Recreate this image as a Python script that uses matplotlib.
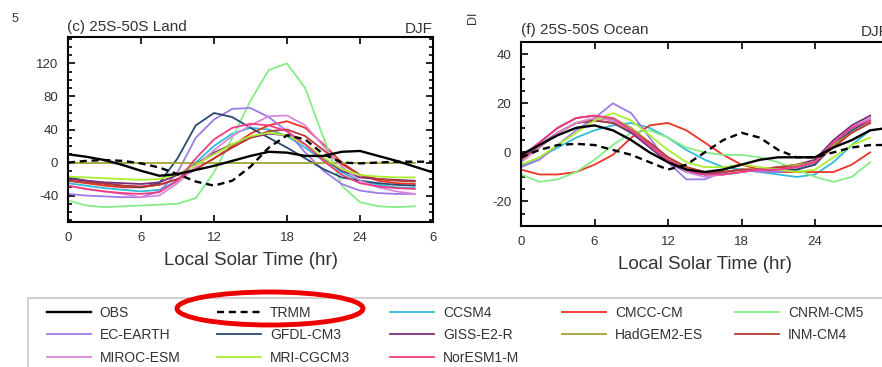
import numpy as np
import matplotlib
matplotlib.use('Agg')
import matplotlib.pyplot as plt
from matplotlib.patches import Ellipse, Rectangle
from matplotlib.ticker import MultipleLocator

plt.rcParams['font.family'] = ['Liberation Sans', 'DejaVu Sans']
plt.rcParams['axes.unicode_minus'] = False

# local solar time (hr); models every 1.5 h, observations to 30 h
t_mod = np.arange(0, 29, 1.5)
t_obs = np.arange(0, 30.1, 1.5)
xtick_labels_land = ['0', '6', '12', '18', '24', '6']
xtick_labels_ocean = ['0', '6', '12', '18', '24', '']

names = ['OBS', 'TRMM', 'CCSM4', 'CMCC-CM', 'CNRM-CM5', 'EC-EARTH', 'GFDL-CM3',
         'GISS-E2-R', 'HadGEM2-ES', 'INM-CM4', 'MIROC-ESM', 'MRI-CGCM3', 'NorESM1-M']
colors = ['black', 'black', '#2fbcd8', '#ec3426', '#86ec86', '#9c7ce6', '#2c4a70',
          '#7a3078', '#a4a430', '#bb3a36', '#dc86dc', '#acee30', '#f03c84']

# (c) 25S-50S Land
land_obs = [10, 7, 3, -3, -10, -16, -14, -9, -4, 2, 8, 13, 12, 8, 8, 13, 14, 8, 2, -5, -12]
land_trmm = [0, 2, 3, 2, -1, -6, -14, -23, -28, -22, -5, 18, 33, 28, 10, 0, -1, 0, 1, 1, 1]
land_ccsm4 = [-25, -28, -31, -33, -35, -33, -22, 0, 20, 35, 42, 40, 32, 18, 2, -12, -22, -27, -30, -31]
land_cmcc = [-22, -25, -28, -30, -30, -27, -20, -8, 5, 20, 35, 45, 50, 42, 22, 0, -15, -22, -25, -26]
land_cnrm = [-46, -52, -54, -53, -52, -51, -50, -43, -12, 30, 75, 112, 120, 90, 30, -28, -48, -53, -54, -53]
land_ecearth = [-38, -40, -41, -42, -42, -35, -12, 30, 52, 65, 66, 55, 38, 12, -10, -26, -34, -37, -38, -38]
land_gfdl = [-18, -22, -25, -28, -30, -25, 5, 45, 60, 55, 42, 30, 18, 5, -8, -18, -22, -25, -27, -28]
land_giss = [-20, -22, -24, -25, -26, -24, -15, -2, 12, 22, 30, 35, 33, 22, 5, -10, -18, -20, -21, -22]
land_hadgem = [0, 0, 0, 0, 0, 0, 0, 0, 0, 0, 0, 0, 0, 0, 0, 0, 0, 0, 0, 0]
land_inm = [-22, -24, -26, -28, -29, -27, -20, -8, 5, 18, 30, 38, 40, 32, 15, -2, -15, -20, -22, -23]
land_miroc = [-28, -32, -35, -38, -42, -40, -25, -5, 15, 32, 45, 56, 57, 45, 20, -5, -22, -30, -35, -38]
land_mri = [-17, -18, -19, -20, -21, -20, -14, -3, 10, 22, 32, 36, 33, 22, 6, -8, -15, -17, -18, -18]
land_noresm = [-28, -32, -35, -37, -38, -36, -22, 5, 28, 42, 47, 45, 38, 22, 2, -15, -25, -29, -31, -32]

# (f) 25S-50S Ocean
ocean_obs = [-1, 3, 7, 10, 11, 9, 5, 0, -4, -7, -8, -7, -5, -3, -2, -2, -2, 2, 5, 9, 10]
ocean_trmm = [-2, 1, 3, 3.5, 3, 1, -1, -4, -7, -5, 0, 5, 8, 6, 1, -2, -2, 0, 2, 3, 3]
ocean_ccsm4 = [-6, -2, 2, 6, 9, 11, 12, 10, 6, 1, -3, -6, -7, -8, -9, -10, -9, -4, 3, 9]
ocean_cmcc = [-7, -9, -9, -8, -5, -1, 6, 11, 12, 9, 4, -1, -5, -7, -8, -8, -8, -8, -5, 0]
ocean_cnrm = [-9, -12, -11, -8, -3, 3, 8, 9, 6, 2, 0, -1, -1, -2, -4, -7, -10, -12, -10, -4]
ocean_ecearth = [-6, -3, 3, 9, 14, 20, 16, 6, -4, -11, -11, -8, -7, -8, -8, -7, -5, 3, 10, 14]
ocean_gfdl = [-3, 3, 8, 12, 13, 12, 8, 3, -3, -7, -9, -9, -8, -7, -7, -7, -5, 3, 9, 13]
ocean_giss = [-2, 4, 10, 14, 15, 13, 8, 2, -4, -8, -9, -8, -7, -7, -6, -5, -3, 5, 11, 15]
ocean_hadgem = [-4, 2, 8, 12, 14, 14, 10, 4, -2, -6, -8, -8, -7, -7, -6, -5, -4, 3, 8, 12]
ocean_inm = [-3, 2, 8, 12, 13, 12, 9, 4, -2, -6, -8, -8, -7, -7, -6, -6, -4, 2, 8, 12]
ocean_miroc = [-4, 2, 8, 12, 14, 13, 9, 3, -3, -8, -10, -9, -8, -7, -7, -6, -4, 4, 10, 14]
ocean_mri = [-5, -2, 3, 8, 13, 16, 13, 7, 1, -4, -6, -6, -5, -6, -7, -8, -7, -2, 3, 6]
ocean_noresm = [-2, 4, 10, 14, 15, 14, 9, 3, -3, -7, -9, -9, -8, -7, -7, -6, -4, 4, 10, 13]

land = [land_obs, land_trmm, land_ccsm4, land_cmcc, land_cnrm, land_ecearth, land_gfdl,
        land_giss, land_hadgem, land_inm, land_miroc, land_mri, land_noresm]
ocean = [ocean_obs, ocean_trmm, ocean_ccsm4, ocean_cmcc, ocean_cnrm, ocean_ecearth, ocean_gfdl,
         ocean_giss, ocean_hadgem, ocean_inm, ocean_miroc, ocean_mri, ocean_noresm]

W, H = 882, 367
fig = plt.figure(figsize=(W / 100, H / 100), dpi=100)


def fx(px):
    return px / W


def fy(py):
    return 1 - py / H


def draw_panel(ax, series, ylim, yticks, yminor, xlabels):
    handles = {}
    # models first, obs on top
    for i in list(range(2, len(series))) + [0, 1]:
        if i < 2:
            x, lw = t_obs, 1.7
        else:
            x, lw = t_mod, 1.3
        line, = ax.plot(x, series[i], color=colors[i], lw=lw, label=names[i],
                        solid_joinstyle='round', dash_joinstyle='round')
        if i == 1:
            line.set_dashes((3, 2))
        handles[i] = line
    ax.set_xlim(0, 30)
    ax.set_ylim(*ylim)
    ax.set_xticks([0, 6, 12, 18, 24, 30])
    ax.set_xticklabels(xlabels)
    ax.set_yticks(yticks)
    ax.yaxis.set_minor_locator(MultipleLocator(yminor))
    ax.tick_params(which='both', direction='in', top=True, right=True,
                   labelsize=9.5, labelcolor='#333333', width=1.2)
    ax.tick_params(which='major', length=5, pad=7)
    ax.tick_params(which='minor', length=3)
    for s in ax.spines.values():
        s.set_linewidth(1.5)
    ax.set_xlabel('Local Solar Time (hr)', fontsize=13.5, color='#333333', labelpad=6)
    return handles


# left panel: 68..433 px wide, 37..222 px tall
ax1 = fig.add_axes([fx(68), fy(222), fx(433 - 68), (222 - 37) / H])
h1 = draw_panel(ax1, land, (-72, 152), [-40, 0, 40, 80, 120], 10, xtick_labels_land)
fig.text(fx(67), fy(27), '(c) 25S-50S Land', fontsize=11, color='#333333', va='center')
fig.text(fx(433), fy(29), 'DJF', fontsize=11, color='#333333', va='center', ha='right')

# right panel runs past the right edge of the picture
ax2 = fig.add_axes([fx(521), fy(226), fx(30 * 12.25), (226 - 42) / H])
draw_panel(ax2, ocean, (-30, 45), [-20, 0, 20, 40], 5, xtick_labels_ocean)
fig.text(fx(521), fy(30), '(f) 25S-50S Ocean', fontsize=11, color='#333333', va='center')
fig.text(fx(521 + 30 * 12.25), fy(32), 'DJF', fontsize=11, color='#333333', va='center', ha='right')

# cropped leftovers of neighbouring labels
fig.text(fx(15), fy(19), '5', fontsize=9, color='#333333', va='center', ha='center')
fig.text(fx(473), fy(18), 'DI', fontsize=9, color='#333333', va='center', ha='center', rotation=90)

# legend: five columns at fixed positions, filled row by row
columns = [[0, 5, 10], [1, 6, 11], [2, 7, 12], [3, 8], [4, 9]]
col_x = [47, 217, 390, 562, 735]
for cx, idx in zip(col_x, columns):
    leg = fig.legend([h1[i] for i in idx], [names[i] for i in idx],
                     loc='upper left', bbox_to_anchor=(fx(cx), fy(306)), ncol=1,
                     frameon=False, fontsize=10, handlelength=3.2, handletextpad=0.6,
                     labelspacing=0.6, borderpad=0, borderaxespad=0)
    for txt in leg.get_texts():
        txt.set_color('#333333')
fig.add_artist(Rectangle((fx(28), fy(400)), fx(900), (400 - 298) / H, transform=fig.transFigure,
                         fill=False, ec='#c8c8c8', lw=1.2))

# red ellipse around TRMM
fig.add_artist(Ellipse((fx(270), fy(308.5)), fx(186), 33 / H, transform=fig.transFigure,
                       fill=False, ec='#ee0000', lw=3.5))

fig.savefig('out.png', dpi=100)
